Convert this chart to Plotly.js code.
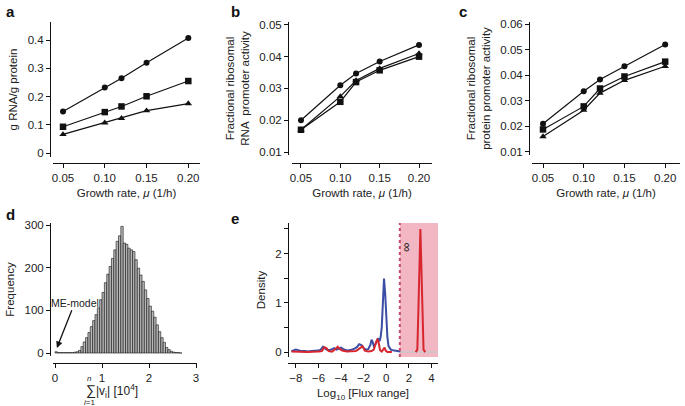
<!DOCTYPE html>
<html>
<head>
<meta charset="utf-8">
<script src="https://cdn.plot.ly/plotly-3.0.1.min.js"></script>
<style>
  html, body { margin: 0; padding: 0; background: #fff; }
  #chart { width: 685px; height: 406px; }
</style>
</head>
<body>
<div id="chart"></div>
<script>
// growth rates shared by panels a-c
const growthRate = [0.05, 0.10, 0.12, 0.15, 0.20];

// panel a: g RNA / g protein
const aCircle = [0.147, 0.232, 0.265, 0.320, 0.407];
const aSquare = [0.093, 0.145, 0.165, 0.201, 0.255];
const aTriangle = [0.066, 0.107, 0.123, 0.150, 0.175];

// panel b: fractional ribosomal RNA promoter activity
const bCircle = [0.0200, 0.0310, 0.0347, 0.0385, 0.0437];
const bTriangle = [0.0170, 0.0275, 0.0325, 0.0363, 0.0410];
const bSquare = [0.0170, 0.0258, 0.0320, 0.0357, 0.0400];

// panel c: fractional ribosomal protein promoter activity
const cCircle = [0.0210, 0.0337, 0.0383, 0.0435, 0.0520];
const cSquare = [0.0188, 0.0278, 0.0348, 0.0395, 0.0453];
const cTriangle = [0.0160, 0.0263, 0.0330, 0.0380, 0.0435];

// panel d: histogram of summed fluxes
const histCenters = [0.025, 0.075, 0.125, 0.175, 0.225, 0.275, 0.325, 0.375, 0.425, 0.475,
  0.525, 0.575, 0.625, 0.675, 0.725, 0.775, 0.825, 0.875, 0.925, 0.975,
  1.025, 1.075, 1.125, 1.175, 1.225, 1.275, 1.325, 1.375, 1.425, 1.475,
  1.525, 1.575, 1.625, 1.675, 1.725, 1.775, 1.825, 1.875, 1.925, 1.975,
  2.025, 2.075, 2.125, 2.175, 2.225, 2.275, 2.325, 2.375, 2.425, 2.475,
  2.525, 2.575, 2.625, 2.675];
const histCounts = [3, 1, 1, 1, 1, 1, 1, 1, 2, 3,
  6, 15, 26, 36, 48, 62, 76, 90, 106, 125,
  142, 165, 185, 203, 222, 242, 262, 275, 297, 258,
  255, 246, 242, 238, 219, 199, 183, 168, 148, 128,
  110, 98, 84, 66, 50, 36, 25, 13, 8, 4,
  2, 1, 1, 0];

// panel e: flux range densities
const blueX = [-8.4, -8.2, -8.0, -7.8, -7.5, -7.2, -6.9, -6.6, -6.3, -6.0, -5.8, -5.6, -5.4, -5.2,
  -5.0, -4.8, -4.6, -4.4, -4.2, -4.0, -3.8, -3.6, -3.4, -3.2, -3.0, -2.8, -2.6, -2.4, -2.2,
  -2.0, -1.8, -1.6, -1.4, -1.3, -1.2, -1.1, -1.0, -0.8, -0.7, -0.6, -0.5, -0.4, -0.3, -0.2,
  -0.1, 0.0, 0.1, 0.2, 0.4, 0.7, 1.0, 1.25];
const blueY = [0.02, 0.03, 0.05, 0.04, 0.02, 0.02, 0.01, 0.02, 0.02, 0.03, 0.05, 0.11, 0.07, 0.04,
  0.04, 0.06, 0.08, 0.05, 0.07, 0.09, 0.06, 0.04, 0.03, 0.04, 0.05, 0.07, 0.10, 0.16, 0.14,
  0.08, 0.05, 0.06, 0.15, 0.25, 0.20, 0.12, 0.14, 0.26, 0.28, 0.22, 0.30, 0.50, 0.95, 1.49,
  1.20, 0.70, 0.30, 0.12, 0.05, 0.03, 0.02, 0.01];
const redX = [-8.4, -7.0, -6.0, -5.7, -5.5, -5.3, -5.1, -4.8, -4.5, -4.3, -4.1, -3.9, -3.5, -3.0,
  -2.7, -2.5, -2.3, -2.1, -1.9, -1.6, -1.3, -1.1, -0.9, -0.8, -0.7, -0.55, -0.4, -0.25, -0.15,
  -0.05, 0.1, 0.5];
const redY = [0.01, 0.0, 0.01, 0.02, 0.10, 0.08, 0.02, 0.01, 0.06, 0.11, 0.06, 0.03, 0.01, 0.01,
  0.02, 0.05, 0.08, 0.12, 0.03, 0.01, 0.02, 0.05, 0.20, 0.25, 0.22, 0.04, 0.01, 0.07, 0.09,
  0.03, 0.0, 0.0];
const spikeX = [2.6, 2.75, 2.85, 2.95, 3.02, 3.1, 3.2, 3.3, 3.45];
const spikeY = [0.0, 0.05, 0.9, 2.2, 2.5, 1.8, 0.5, 0.05, 0.0];
const infX = [1.2, 4.55];
const infBase = [0, 0];

const W = 685, H = 406;
const px = v => v / W;
const py = v => 1 - v / H;

const font = { family: 'Liberation Sans, Arial, sans-serif', size: 11.5, color: '#222' };

function line(x, y, xa, ya, symbol) {
  return {
    x: x, y: y, xaxis: xa, yaxis: ya,
    type: 'scatter', mode: 'lines+markers',
    line: { color: '#111', width: 1.2 },
    marker: { symbol: symbol, size: symbol === 'circle' ? 6 : 6.5, color: '#111' },
    showlegend: false, cliponaxis: false
  };
}

function axis(domain, range, pos, vals, text, title) {
  const a = {
    domain: domain, range: range, anchor: 'free', position: pos,
    tickvals: vals, ticktext: text,
    showline: true, linecolor: '#111', linewidth: 1,
    ticks: 'outside', ticklen: 4, tickcolor: '#111',
    showgrid: false, zeroline: false,
    tickfont: font
  };
  if (title) a.title = { text: title, font: font, standoff: 6 };
  return a;
}

const rateVals = [0.05, 0.10, 0.15, 0.20];
const rateText = ['0.05', '0.10', '0.15', '0.20'];
const rateTitle = 'Growth rate, <i>μ</i> (1/h)';

const traces = [
  line(growthRate, aCircle, 'x', 'y', 'circle'),
  line(growthRate, aSquare, 'x', 'y', 'square'),
  line(growthRate, aTriangle, 'x', 'y', 'triangle-up'),
  line(growthRate, bCircle, 'x2', 'y2', 'circle'),
  line(growthRate, bTriangle, 'x2', 'y2', 'triangle-up'),
  line(growthRate, bSquare, 'x2', 'y2', 'square'),
  line(growthRate, cCircle, 'x3', 'y3', 'circle'),
  line(growthRate, cSquare, 'x3', 'y3', 'square'),
  line(growthRate, cTriangle, 'x3', 'y3', 'triangle-up'),
  {
    x: histCenters, y: histCounts, xaxis: 'x4', yaxis: 'y4', type: 'bar',
    width: 0.05, marker: { color: '#b8b8b8', line: { color: '#111', width: 0.6 } },
    showlegend: false
  },
  {
    x: infX, y: infBase, xaxis: 'x5', yaxis: 'y5', type: 'scatter', mode: 'lines',
    line: { color: '#d2c4c8', width: 2 }, showlegend: false
  },
  {
    x: blueX, y: blueY, xaxis: 'x5', yaxis: 'y5', type: 'scatter', mode: 'lines',
    line: { color: '#3b4ea3', width: 2 }, showlegend: false
  },
  {
    x: redX, y: redY, xaxis: 'x5', yaxis: 'y5', type: 'scatter', mode: 'lines',
    line: { color: '#d8262e', width: 2 }, showlegend: false
  },
  {
    x: spikeX, y: spikeY, xaxis: 'x5', yaxis: 'y5', type: 'scatter', mode: 'lines',
    line: { color: '#d8262e', width: 2 }, showlegend: false
  }
];

const densityAxis = axis([py(357), py(223)], [-0.1, 2.62], px(288),
  [0, 1, 2], ['0', '1', '2'], 'Density');
densityAxis.minor = { tickvals: [0.5, 1.5, 2.5], ticks: 'outside', ticklen: 4, tickcolor: '#111', showgrid: false };

const labelFont = { family: font.family, size: 15, color: '#111' };
const smallFont = { family: font.family, size: 8, color: '#222' };

const layout = {
  width: W, height: H,
  margin: { l: 0, r: 0, t: 0, b: 0 },
  paper_bgcolor: '#fff', plot_bgcolor: 'rgba(0,0,0,0)',
  font: font,
  bargap: 0,

  xaxis: axis([px(53), px(200)], [0.038, 0.214], py(163), rateVals, rateText, rateTitle),
  yaxis: axis([py(157), py(22)], [-0.014, 0.464], px(50),
    [0, 0.1, 0.2, 0.3, 0.4], ['0', '0.1', '0.2', '0.3', '0.4'], 'g RNA/g protein'),

  xaxis2: axis([px(292), px(432)], [0.0386, 0.2165], py(163), rateVals, rateText, rateTitle),
  yaxis2: axis([py(155), py(22)], [0.00906, 0.0509], px(288),
    [0.01, 0.02, 0.03, 0.04, 0.05], ['0.01', '0.02', '0.03', '0.04', '0.05'],
    'Fractional ribosomal<br>RNA  promoter activity'),

  xaxis3: axis([px(532), px(680)], [0.0365, 0.2182], py(163), rateVals, rateText, rateTitle),
  yaxis3: axis([py(155), py(22)], [0.0088, 0.0608], px(529),
    [0.01, 0.02, 0.03, 0.04, 0.05, 0.06], ['0.01', '0.02', '0.03', '0.04', '0.05', '0.06'],
    'Fractional ribosomal<br>protein promoter activity'),

  xaxis4: axis([px(53), px(197)], [-0.043, 3.02], py(363), [0, 1, 2, 3], ['0', '1', '2', '3'], null),
  yaxis4: axis([py(356), py(223)], [-7, 305], px(50),
    [0, 100, 200, 300], ['0', '100', '200', '300'], 'Frequency'),

  xaxis5: axis([px(288), px(438)], [-8.7, 4.58], py(363),
    [-8, -6, -4, -2, 0, 2, 4], ['−8', '−6', '−4', '−2', '0', '2', '4'],
    'Log<sub>10</sub> [Flux range]'),
  yaxis5: densityAxis,

  shapes: [
    {
      type: 'rect', xref: 'x5', yref: 'y5', x0: 1.2, x1: 4.58, y0: -0.1, y1: 2.62,
      fillcolor: '#f2b7c3', line: { width: 0 }, layer: 'below'
    },
    {
      type: 'line', xref: 'x5', yref: 'y5', x0: 1.2, x1: 1.2, y0: -0.1, y1: 2.62,
      line: { color: '#c24a6c', width: 2, dash: '3px,3px' }
    }
  ],

  annotations: [
    { text: '<b>a</b>', x: px(4), y: py(12), xref: 'paper', yref: 'paper', xanchor: 'left', yanchor: 'middle', showarrow: false, font: labelFont },
    { text: '<b>b</b>', x: px(229), y: py(12), xref: 'paper', yref: 'paper', xanchor: 'left', yanchor: 'middle', showarrow: false, font: labelFont },
    { text: '<b>c</b>', x: px(457), y: py(11), xref: 'paper', yref: 'paper', xanchor: 'left', yanchor: 'middle', showarrow: false, font: labelFont },
    { text: '<b>d</b>', x: px(4), y: py(215), xref: 'paper', yref: 'paper', xanchor: 'left', yanchor: 'middle', showarrow: false, font: labelFont },
    { text: '<b>e</b>', x: px(229), y: py(219), xref: 'paper', yref: 'paper', xanchor: 'left', yanchor: 'middle', showarrow: false, font: labelFont },
    {
      text: 'ME-model', xref: 'x4', yref: 'y4', x: 0.04, y: 12, ax: 0.42, ay: 118,
      axref: 'x4', ayref: 'y4', showarrow: true, arrowhead: 2, arrowsize: 1, arrowwidth: 1.3,
      arrowcolor: '#111', font: { family: font.family, size: 10.5, color: '#222' }
    },
    { text: '<span style="font-size:14px">∑</span>|v<sub>i</sub>| [10<sup>4</sup>]', x: px(84), y: py(391), xref: 'paper', yref: 'paper', xanchor: 'left', yanchor: 'middle', showarrow: false, font: { family: font.family, size: 12, color: '#222' } },
    { text: '<i>n</i>', x: px(89), y: py(378), xref: 'paper', yref: 'paper', xanchor: 'center', yanchor: 'middle', showarrow: false, font: smallFont },
    { text: '<i>i</i>=1', x: px(89), y: py(402), xref: 'paper', yref: 'paper', xanchor: 'center', yanchor: 'middle', showarrow: false, font: smallFont },
    { text: '∞', x: 1.95, y: 2.13, xref: 'x5', yref: 'y5', textangle: 90, showarrow: false, font: { family: font.family, size: 13, color: '#222' } }
  ]
};

Plotly.newPlot('chart', traces, layout, { displayModeBar: false, staticPlot: true });
</script>
</body>
</html>
